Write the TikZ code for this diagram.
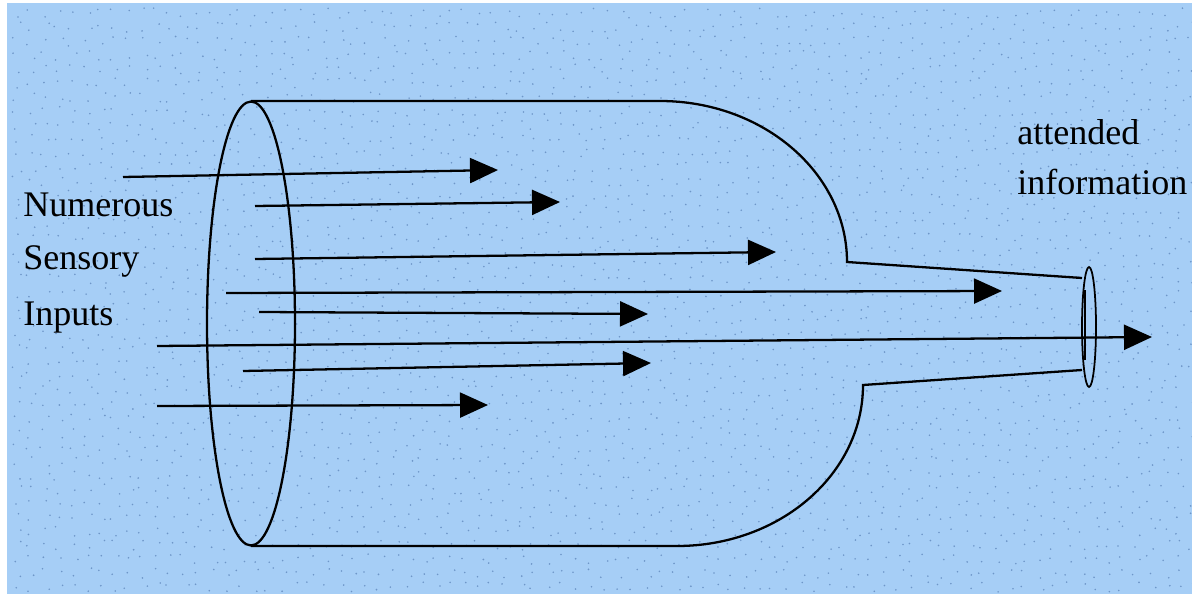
\documentclass[tikz,border=0pt]{standalone}
\usepackage{fontspec}
\setmainfont{Liberation Serif}
\usetikzlibrary{arrows.meta}
\definecolor{bgblue}{RGB}{166,206,246}
\definecolor{dotblue}{RGB}{110,150,200}
\tikzset{
  outline/.style={line width=1.3pt, black},
  flow/.style={line width=1.3pt, -{Triangle[length=0.56cm,width=0.5cm]}},
  lbl/.style={font=\fontsize{20.5}{24}\selectfont, inner sep=0pt, anchor=base west},
}
\begin{document}
\begin{tikzpicture}[x=0.02cm,y=-0.02cm]
  \useasboundingbox (0,0) rectangle (1192,594);
  %% background
  \fill[white] (0,0) rectangle (1192,594);
  \fill[bgblue] (7,3) rectangle (1192,594);
  \pgfmathsetseed{12}
  \foreach \i in {0,...,84} {
    \foreach \j in {0,...,41} {
      \fill[dotblue] ({12+\i*14+rnd*10},{8+\j*14+rnd*10}) circle (0.018cm);
    }
  }
  %% bottle: mouth
  \coordinate (mouth) at (251,323.5);
  \draw[outline] (mouth) ellipse [x radius=0.88cm, y radius=4.44cm];
  % body, top and bottom
  \coordinate (t1) at (251,101);
  \coordinate (t2) at (660,101);
  \coordinate (t3) at (847,262);
  \coordinate (t4) at (1082,278);
  \coordinate (b1) at (251,546);
  \coordinate (b2) at (677,546);
  \coordinate (b3) at (863,385);
  \coordinate (b4) at (1082,370);
  \draw[outline] (t1) -- (t2) .. controls (763,101) and (847,173) .. (t3) -- (t4);
  \draw[outline] (b1) -- (b2) .. controls (780,546) and (863,474) .. (b3) -- (b4);
  % neck opening
  \coordinate (neck) at (1089,327);
  \draw[outline, line width=1pt] (neck) ellipse [x radius=0.14cm, y radius=1.2cm];
  \draw[outline, line width=1pt] (1085,290) -- (1085,360);
  %% inputs
  \coordinate (s1) at (123,177);  \coordinate (e1) at (498,170);
  \coordinate (s2) at (255,206);  \coordinate (e2) at (560,202);
  \coordinate (s3) at (255,259);  \coordinate (e3) at (776,252);
  \coordinate (s4) at (226,293);  \coordinate (e4) at (1002,291);
  \coordinate (s5) at (259,312);  \coordinate (e5) at (648,314);
  \coordinate (s6) at (157,346);  \coordinate (e6) at (1152,337);
  \coordinate (s7) at (243,371);  \coordinate (e7) at (651,363);
  \coordinate (s8) at (157,406);  \coordinate (e8) at (488,405);
  \draw[flow] (s1) -- (e1);
  \draw[flow] (s2) -- (e2);
  \draw[flow] (s3) -- (e3);
  \draw[flow] (s4) -- (e4);
  \draw[flow] (s5) -- (e5);
  \draw[flow] (s6) -- (e6);
  \draw[flow] (s7) -- (e7);
  \draw[flow] (s8) -- (e8);
  %% labels
  \node[lbl] (in1) at (23,217) {Numerous};
  \node[lbl] (in2) at (23,270) {Sensory};
  \node[lbl] (in3) at (23,325) {Inputs};
  \node[lbl] (at1) at (1017,145) {attended};
  \node[lbl] (at2) at (1017,195) {information};
\end{tikzpicture}
\end{document}
